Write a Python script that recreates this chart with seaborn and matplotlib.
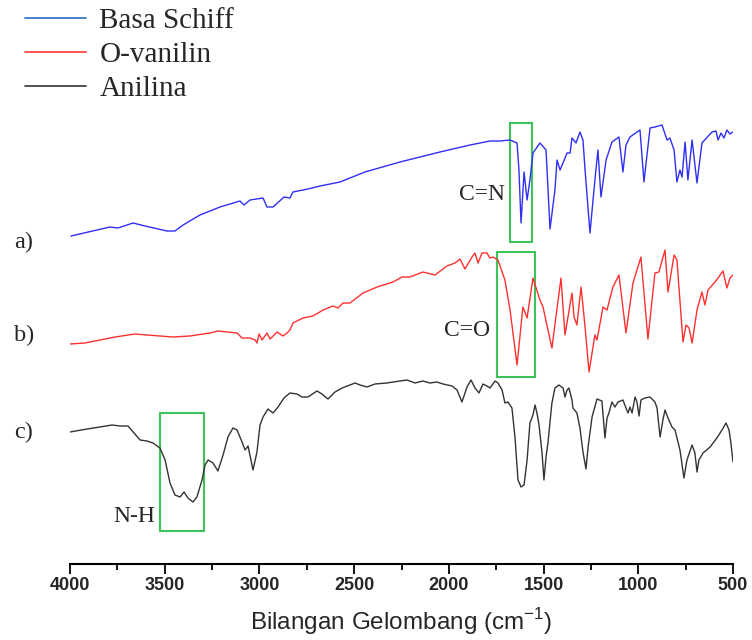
import numpy as np
import pandas as pd
import matplotlib
matplotlib.use('Agg')
import matplotlib.pyplot as plt
from matplotlib.patches import Rectangle
from matplotlib.lines import Line2D
import seaborn as sns

# spectra (wavenumber, stacked intensity in arbitrary units)
wn_schiff = [3995, 3789, 3747, 3667, 3604, 3488, 3446, 3403, 3314, 3208, 3103, 3081, 3050, 2981, 2960,
             2928, 2870, 2839, 2823, 2744, 2680, 2575, 2443, 2258, 2047, 1888, 1783, 1730, 1677, 1640,
             1630, 1619, 1603, 1587, 1572, 1556, 1519, 1487, 1466, 1440, 1429, 1413, 1376, 1360, 1350,
             1329, 1308, 1292, 1281, 1255, 1229, 1213, 1197, 1170, 1139, 1102, 1081, 1065, 1044, 991,
             970, 938, 912, 875, 848, 833, 811, 796, 780, 769, 753, 738, 716, 690, 664,
             611, 590, 579, 563, 548, 532, 516, 500]
i_schiff = [364, 373, 372, 377, 374, 369, 369, 375, 385, 393, 399, 395, 400, 402, 393,
            393, 403, 402, 408, 411, 414, 418, 428, 438, 448, 455, 459, 459, 460, 457,
            430, 377, 428, 400, 420, 447, 457, 450, 371, 410, 440, 430, 447, 447, 462,
            457, 468, 460, 430, 367, 420, 450, 403, 440, 458, 463, 428, 455, 463, 470,
            418, 472, 473, 475, 460, 462, 450, 418, 430, 423, 458, 420, 460, 417, 457,
            468, 469, 460, 467, 462, 470, 466, 468]

wn_vanilin = [4000, 3921, 3842, 3762, 3657, 3525, 3456, 3367, 3261, 3219, 3118, 3092, 3050, 3023, 3013,
              3002, 2986, 2960, 2944, 2907, 2876, 2854, 2839, 2823, 2770, 2717, 2664, 2612, 2585, 2559,
              2522, 2453, 2379, 2295, 2247, 2205, 2137, 2073, 2010, 1968, 1941, 1915, 1878, 1862, 1846,
              1825, 1799, 1783, 1767, 1741, 1704, 1677, 1640, 1609, 1587, 1556, 1519, 1503, 1456, 1408,
              1387, 1350, 1339, 1324, 1302, 1281, 1260, 1229, 1218, 1186, 1165, 1134, 1102, 1065, 1028,
              986, 949, 912, 891, 859, 843, 811, 796, 764, 748, 732, 716, 690, 664, 648,
              632, 595, 579, 553, 532, 516, 500]
i_vanilin = [256, 257, 260, 263, 266, 264, 263, 264, 267, 269, 267, 262, 262, 260, 257,
             266, 260, 267, 261, 268, 264, 267, 270, 277, 282, 284, 290, 294, 292, 297,
             297, 307, 313, 318, 323, 323, 328, 325, 334, 337, 341, 331, 343, 347, 337,
             347, 347, 342, 343, 340, 320, 290, 235, 293, 282, 322, 300, 293, 252, 322,
             265, 307, 283, 275, 313, 273, 228, 265, 260, 293, 290, 313, 325, 267, 317,
             343, 261, 327, 328, 350, 308, 345, 340, 258, 275, 272, 257, 290, 308, 295,
             310, 318, 322, 329, 312, 322, 325]

wn_anilina = [4000, 3910, 3842, 3778, 3736, 3694, 3667, 3630, 3594, 3562, 3525, 3498, 3472, 3446, 3419,
              3398, 3377, 3351, 3330, 3303, 3287, 3271, 3245, 3219, 3192, 3166, 3140, 3118, 3092, 3076,
              3060, 3050, 3034, 3013, 2997, 2981, 2955, 2928, 2902, 2870, 2839, 2802, 2775, 2744, 2696,
              2670, 2638, 2601, 2564, 2522, 2495, 2469, 2432, 2390, 2327, 2258, 2221, 2179, 2137, 2100,
              2063, 2031, 1983, 1957, 1931, 1904, 1883, 1862, 1841, 1820, 1799, 1783, 1756, 1741, 1719,
              1704, 1688, 1667, 1651, 1635, 1619, 1603, 1587, 1572, 1556, 1545, 1535, 1524, 1508, 1498,
              1487, 1477, 1456, 1440, 1419, 1397, 1387, 1376, 1366, 1350, 1345, 1324, 1308, 1292, 1276,
              1265, 1244, 1218, 1192, 1176, 1165, 1155, 1139, 1123, 1107, 1081, 1065, 1054, 1044, 1033,
              1017, 1007, 996, 986, 965, 938, 912, 901, 885, 870, 859, 843, 822, 806, 780,
              759, 743, 716, 701, 690, 680, 658, 621, 585, 558, 537, 521, 511, 500]
i_anilina = [168, 171, 173, 175, 174, 174, 168, 160, 159, 157, 152, 140, 117, 105, 103,
             108, 102, 98, 103, 120, 135, 140, 137, 129, 145, 163, 172, 170, 158, 150,
             154, 145, 130, 148, 175, 183, 191, 187, 193, 202, 207, 206, 203, 203, 209,
             206, 201, 208, 212, 215, 217, 215, 213, 216, 217, 219, 220, 217, 219, 217,
             218, 216, 214, 210, 198, 213, 220, 212, 207, 216, 214, 212, 219, 217, 210,
             197, 198, 192, 163, 120, 113, 115, 140, 177, 185, 195, 187, 175, 147, 120,
             143, 157, 197, 212, 215, 212, 203, 210, 212, 200, 192, 187, 172, 148, 131,
             153, 183, 201, 199, 162, 182, 187, 198, 193, 198, 200, 192, 187, 193, 187,
             203, 198, 184, 200, 202, 203, 198, 192, 163, 180, 190, 182, 173, 170, 150,
             122, 140, 155, 147, 128, 140, 147, 153, 162, 170, 177, 170, 157, 138]

series_names = ['Basa Schiff', 'O-vanilin', 'Anilina']
trace_colors = ['#2f2ff5', '#ff3030', '#333333']
legend_colors = ['#3a78c8', '#ff4848', '#444444']
panel_tags = ['a)', 'b)', 'c)']

# marked bands: label, wavenumber range, intensity range
band_labels = ['C=N', 'C=O', 'N-H']
band_wn = [(1677, 1561), (1746, 1545), (3525, 3293)]
band_i = [(358, 477), (223, 348), (69, 187)]

frames = []
for name, wn, it in zip(series_names,
                        [wn_schiff, wn_vanilin, wn_anilina],
                        [i_schiff, i_vanilin, i_anilina]):
    frames.append(pd.DataFrame({'wn': wn, 'I': it, 'sampel': name}))
df = pd.concat(frames, ignore_index=True)

sns.set_theme(style='white')
plt.rcParams['font.family'] = ['Liberation Serif', 'DejaVu Serif']
plt.rcParams['mathtext.fontset'] = 'custom'
plt.rcParams['mathtext.rm'] = 'Liberation Sans'

fig = plt.figure(figsize=(7.52, 6.4), dpi=100)
ax = fig.add_axes([70 / 752, 1 - 564 / 640, 663 / 752, 454 / 640])

sns.lineplot(data=df, x='wn', y='I', hue='sampel', palette=trace_colors,
             estimator=None, linewidth=1.0, legend=False, ax=ax)

ax.set_xlim(4000, 500)
ax.set_ylim(36, 490)
ax.set_xticks(np.arange(4000, 499, -500))
ax.set_xticks(np.arange(3750, 500, -500), minor=True)
ax.tick_params(axis='x', which='major', direction='out', length=7, width=1.3,
               color='black', bottom=True, pad=2)
ax.tick_params(axis='x', which='minor', direction='out', length=4, width=1.3,
               color='black', bottom=True)
for lab in ax.get_xticklabels():
    lab.set_family('Liberation Sans')
    lab.set_fontweight('bold')
    lab.set_fontsize(13)
ax.set_yticks([])
ax.set_ylabel('')
for s in ['left', 'right', 'top']:
    ax.spines[s].set_visible(False)
ax.spines['bottom'].set_linewidth(1.5)
ax.spines['bottom'].set_color('black')
ax.set_xlabel('Bilangan Gelombang (cm$^{-1}$)', family='Liberation Sans',
              fontsize=17.5, labelpad=9)

for lab, (w0, w1), (y0, y1) in zip(band_labels, band_wn, band_i):
    ax.add_patch(Rectangle((w0, y0), w1 - w0, y1 - y0, fill=False,
                           edgecolor='#3cc45a', linewidth=1.5))
ax.text(1704, 405, 'C=N', ha='right', va='center', fontsize=17)
ax.text(1783, 270, 'C=O', ha='right', va='center', fontsize=17)
ax.text(3551, 84, 'N-H', ha='right', va='center', fontsize=17)

for tag, yy in zip(panel_tags, [242, 335, 432]):
    fig.text(24 / 752, 1 - yy / 640, tag, ha='center', va='center', fontsize=17.5)

handles = [Line2D([], [], color=c, linewidth=1.3) for c in legend_colors]
fig.legend(handles, series_names, loc='upper left', bbox_to_anchor=(25 / 752, 1 - 8 / 640),
           frameon=False, fontsize=21, handlelength=2.1, handletextpad=0.45,
           labelspacing=0.26, borderpad=0, borderaxespad=0)

fig.savefig('out.png', dpi=100)
